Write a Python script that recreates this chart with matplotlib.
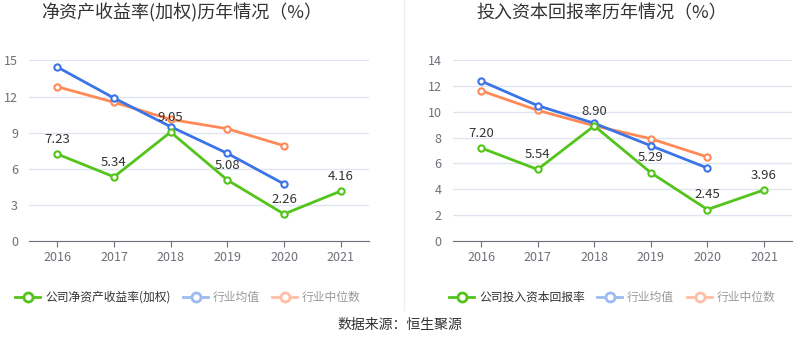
import matplotlib
matplotlib.use("Agg")
import matplotlib.pyplot as plt
from matplotlib.lines import Line2D

plt.rcParams['font.family'] = ['Noto Sans CJK SC', 'DejaVu Sans']

years = ['2016', '2017', '2018', '2019', '2020', '2021']

roe_company = [7.23, 5.34, 9.05, 5.08, 2.26, 4.16]
roe_mean = [14.44, 11.87, 9.50, 7.29, 4.75]
roe_median = [12.81, 11.52, 10.10, 9.33, 7.92]

roic_company = [7.20, 5.54, 8.90, 5.29, 2.45, 3.96]
roic_mean = [12.36, 10.46, 9.10, 7.37, 5.65]
roic_median = [11.61, 10.10, 8.91, 7.91, 6.50]

roe_title = '净资产收益率(加权)历年情况（%）'
roic_title = '投入资本回报率历年情况（%）'
roe_legend = ['公司净资产收益率(加权)', '行业均值', '行业中位数']
roic_legend = ['公司投入资本回报率', '行业均值', '行业中位数']
source_text = '数据来源：恒生聚源'

roe_yticks = [0, 3, 6, 9, 12, 15]
roic_yticks = [0, 2, 4, 6, 8, 10, 12, 14]

W, H = 800, 358
GREEN = '#52c41a'
BLUE = '#3a74e6'
ORANGE = '#ff8a57'
BLUE_L = '#9dbaf2'
ORANGE_L = '#ffbfa6'

fig = plt.figure(figsize=(W / 100, H / 100), dpi=100)


def px_axes(x0, x1, ytop, ybot):
    return fig.add_axes([x0 / W, 1 - ybot / H, (x1 - x0) / W, (ybot - ytop) / H])


def draw(ax, company, mean, median, yticks):
    xs = list(range(len(years)))
    for vals, c in ((median, ORANGE), (mean, BLUE), (company, GREEN)):
        ax.plot(xs[:len(vals)], vals, color=c, lw=2, marker='o', ms=4.5,
                mfc='white', mec=c, mew=1.5, zorder=3, clip_on=False)
    for x, v in zip(xs, company):
        ax.annotate(f'{v:.2f}', (x, v), xytext=(0, 6), textcoords='offset points',
                    ha='center', va='bottom', fontsize=9.5, color='#333333', zorder=5)
    ax.set_xlim(-0.5, len(years) - 0.5)
    ax.set_ylim(0, yticks[-1])
    ax.set_yticks(yticks)
    ax.set_xticks(xs)
    ax.set_xticklabels(years)
    ax.grid(axis='y', color='#e0e6f1', lw=1)
    ax.set_axisbelow(True)
    for s in ('top', 'right', 'left'):
        ax.spines[s].set_visible(False)
    ax.spines['bottom'].set_color('#6e7079')
    ax.tick_params(axis='y', length=0, colors='#6e7079', labelsize=9, pad=8)
    ax.tick_params(axis='x', length=4, color='#6e7079', colors='#6e7079', labelsize=9, pad=3)


ax1 = px_axes(29, 369, 60.3, 241.3)
draw(ax1, roe_company, roe_mean, roe_median, roe_yticks)
ax2 = px_axes(452.7, 792.3, 59.7, 241.3)
draw(ax2, roic_company, roic_mean, roic_median, roic_yticks)

fig.text(182 / W, 1 - 13 / H, roe_title, ha='center', va='center', fontsize=13, color='#333333')
fig.text(602 / W, 1 - 13 / H, roic_title, ha='center', va='center', fontsize=13, color='#333333')

# divider
fig.add_artist(Line2D([404 / W, 404 / W], [1 - 0 / H, 1 - 310 / H], color='#eeeeee', lw=1))


def legend_item(x, label, c, tc):
    y = 1 - 297 / H
    fig.add_artist(Line2D([x / W, (x + 25) / W], [y, y], color=c, lw=2))
    fig.add_artist(Line2D([(x + 12.5) / W], [y], marker='o', ms=6.5, mfc='white', mec=c, mew=2, color=c))
    fig.text((x + 30) / W, y, label, ha='left', va='center', fontsize=8.5, color=tc)


legend_item(15, roe_legend[0], GREEN, '#333333')
legend_item(183, roe_legend[1], BLUE_L, '#999999')
legend_item(272, roe_legend[2], ORANGE_L, '#999999')
legend_item(449, roic_legend[0], GREEN, '#333333')
legend_item(597, roic_legend[1], BLUE_L, '#999999')
legend_item(687, roic_legend[2], ORANGE_L, '#999999')

fig.text(400 / W, 1 - 325 / H, source_text, ha='center', va='center', fontsize=10, color='#333333')

fig.savefig('out.png', dpi=100)
